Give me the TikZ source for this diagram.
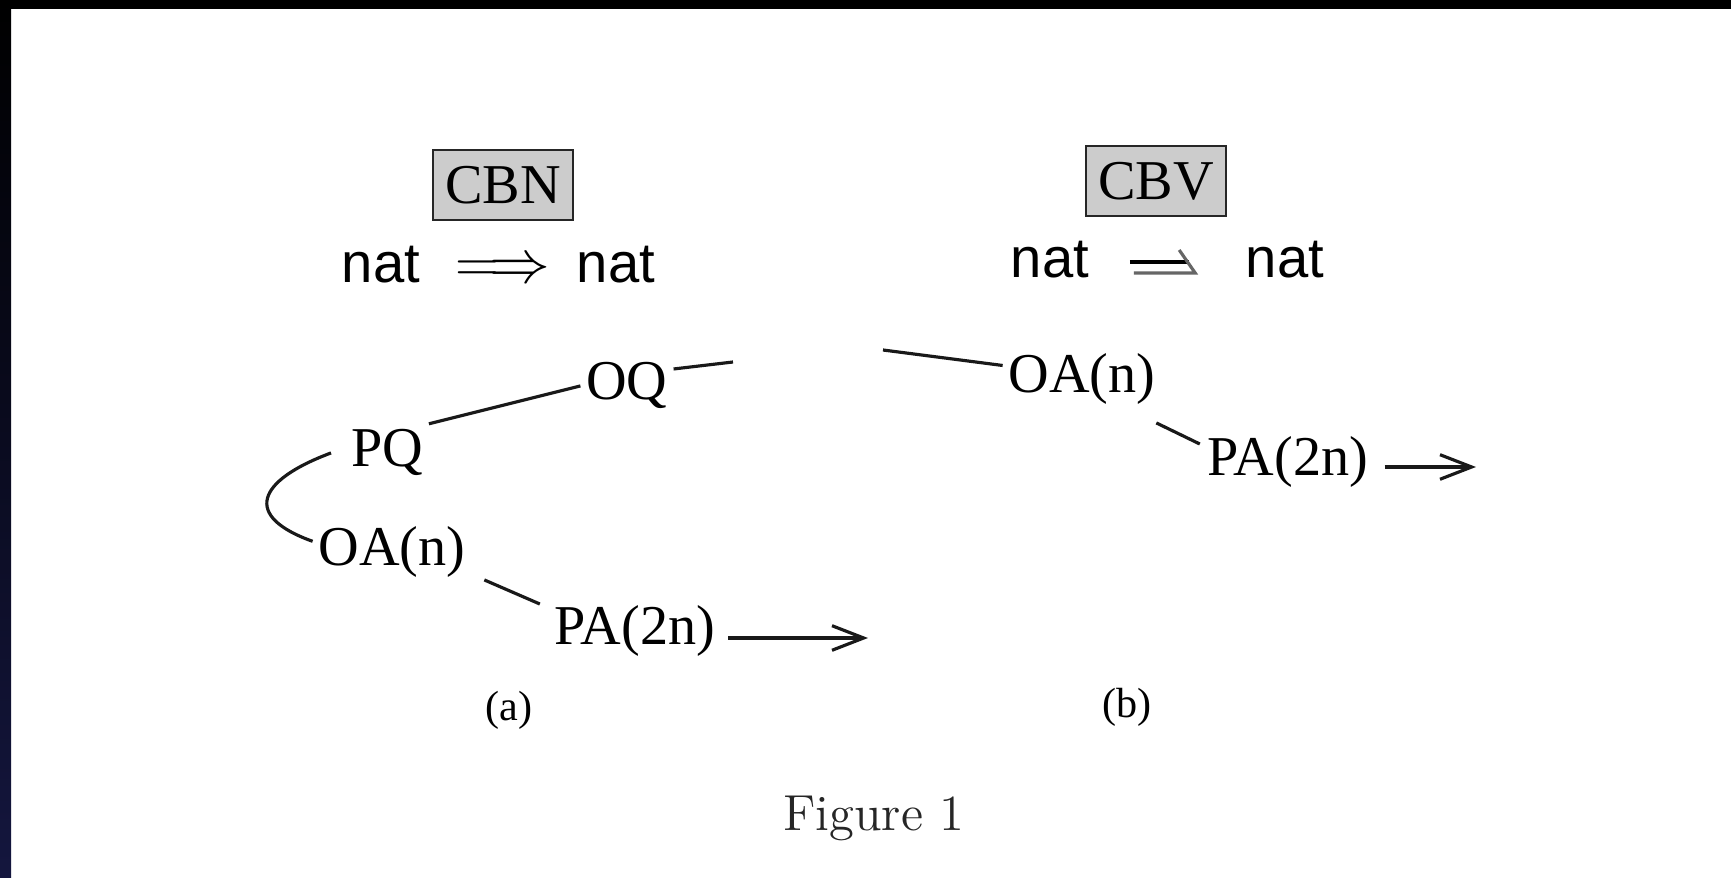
\documentclass[tikz,border=0pt]{standalone}
\usepackage{fontspec}
\usetikzlibrary{arrows.meta,positioning}
\newfontfamily\tmsfont{Liberation Serif}
\newfontfamily\natfont{Liberation Sans}
\definecolor{edgeblue}{RGB}{20,22,62}

\begin{document}
\begin{tikzpicture}[
  x=1cm,y=1cm,
  term/.style={anchor=base,inner sep=1.5pt,font=\tmsfont\fontsize{16}{19}\selectfont},
  strat/.style={draw=black!85,line width=0.7pt,fill=gray!40,minimum width=1.4cm,
    minimum height=0.7cm,inner sep=0pt,font=\tmsfont\fontsize{16}{19}\selectfont},
  typ/.style={anchor=base,inner sep=0pt,font=\natfont\fontsize{16}{19}\selectfont},
  sub/.style={inner sep=0pt,font=\tmsfont\fontsize{12}{14}\selectfont},
  link/.style={line width=0.9pt,draw=black!90},
  move/.style={link,-{Straight Barb[length=9pt,width=7pt]}}
]
\useasboundingbox (0,0) rectangle (17.31,-8.78);
\fill[white] (0,0) rectangle (17.31,-8.78);
\fill[black] (0,0) rectangle (17.31,-0.09);
\shade[top color=black,bottom color=edgeblue] (0,0) rectangle (0.11,-8.78);

% call-by-name side
\node[strat] (cbn) at (5.03,-1.85) {CBN};
\node[typ] (natA1) at (3.81,-2.83) {nat};
\node[typ] (impl) at (5.03,-2.83) {$\Longrightarrow$};
\node[typ] (natA2) at (6.16,-2.83) {nat};

\node[term] (oq) at (6.27,-4.00) {OQ};
\node[term] (pq) at (3.87,-4.67) {PQ};
\node[term] (oaL) at (3.92,-5.66) {OA(n)};
\node[term] (paL) at (6.35,-6.45) {PA(2n)};
\coordinate (tailL) at (7.33,-3.62);
\coordinate (outL) at (8.68,-6.38);

\draw[link] (pq.north east) -- (oq.west);
\draw[link] (oq.20) -- (tailL);
\draw[link] ([xshift=-4pt]pq.west) .. controls +(-0.75,-0.28) and +(-0.70,0.25) .. (oaL.172);
\draw[link] ([shift={(0.13,0.04)}]oaL.south east) -- ([shift={(-0.09,-0.04)}]paL.north west);
\draw[move] ([xshift=2pt]paL.east |- outL) -- (outL);
\node[sub] (capA) at (5.09,-7.10) {(a)};

% call-by-value side
\node[strat] (cbv) at (11.56,-1.81) {CBV};
\node[typ] (natB1) at (10.50,-2.78) {nat};
\node[typ] (natB2) at (12.85,-2.78) {nat};
\draw[line width=0.9pt] ([shift={(0.40,0.16)}]natB1.base east) -- ([shift={(-0.56,0.16)}]natB2.base west);
\draw[line width=0.9pt,draw=black!60] ([shift={(0.44,0.05)}]natB1.base east)
  -- ([shift={(-0.50,0.05)}]natB2.base west) -- ([shift={(-0.66,0.28)}]natB2.base west);

\node[term] (oaR) at (10.82,-3.93) {OA(n)};
\node[term] (paR) at (12.88,-4.76) {PA(2n)};
\coordinate (inR) at (8.83,-3.50);
\coordinate (outR) at (14.76,-4.67);

\draw[link] (inR) -- (oaR.170);
\draw[link] ([shift={(-0.05,-0.12)}]oaR.south east) -- ([shift={(-0.02,-0.13)}]paR.north west);
\draw[move] ([xshift=3pt]paR.east |- outR) -- (outR);
\node[sub] (capB) at (11.27,-7.07) {(b)};

\node[anchor=base,inner sep=0pt,font=\fontsize{14.4}{17}\selectfont,text=black!85] (fig) at (8.74,-8.30) {Figure 1};
\end{tikzpicture}
\end{document}
